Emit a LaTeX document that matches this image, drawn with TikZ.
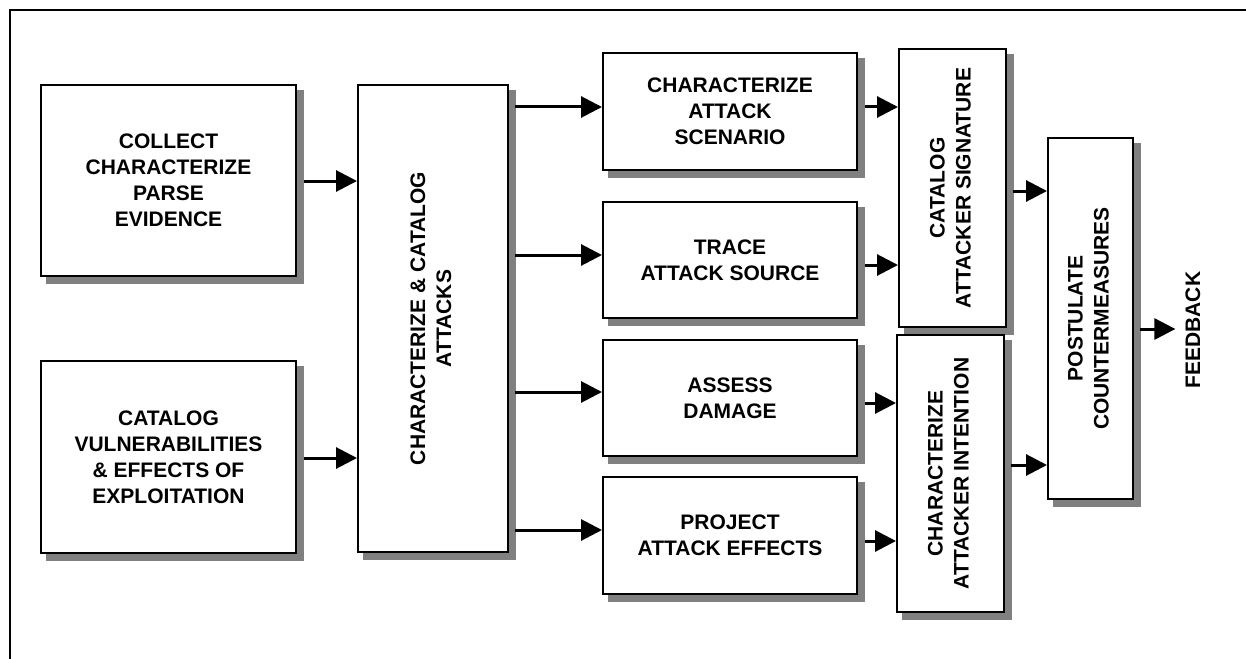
\documentclass[tikz,border=0pt]{standalone}
\usepackage{fontspec}
\setmainfont{Liberation Sans}
\usepackage{graphicx}
\usetikzlibrary{arrows.meta,backgrounds,calc}
\definecolor{shadowgray}{HTML}{808080}
\begin{document}
\begin{tikzpicture}[x=1pt,y=-1pt,
  box/.style={draw,line width=2pt,fill=white,inner sep=0pt,align=center,
    font=\bfseries\fontsize{21}{26}\selectfont},
  lbl/.style={inner sep=0pt,align=center,font=\bfseries\fontsize{21}{26}\selectfont},
  arr/.style={line width=3pt,-{Triangle[length=21pt,width=21pt]}},
  frame/.style={line width=2pt}]
\useasboundingbox (0,0) rectangle (1246,658);
\clip (0,0) rectangle (1246,658);
\draw[frame] (1300,10) rectangle (10,700);

\node[box,minimum width=255pt,minimum height=191pt] (b1) at (168.5,180.5)
  {COLLECT\\CHARACTERIZE\\PARSE\\EVIDENCE};
\node[box,minimum width=255pt,minimum height=192pt] (b2) at (168.5,457)
  {CATALOG\\VULNERABILITIES\\\& EFFECTS OF\\EXPLOITATION};
\node[box,minimum width=150pt,minimum height=467pt] (b3) at (433,318.5)
  {\rotatebox{90}{\begin{tabular}{@{}c@{}}CHARACTERIZE \& CATALOG\\ATTACKS\end{tabular}}};

\node[box,minimum width=254pt,minimum height=117pt] (c1) at (730,111.5)
  {CHARACTERIZE\\ATTACK\\SCENARIO};
\node[box,minimum width=254pt,minimum height=116pt] (c2) at (730,260)
  {TRACE\\ATTACK SOURCE};
\node[box,minimum width=254pt,minimum height=116pt] (c3) at (730,398)
  {ASSESS\\DAMAGE};
\node[box,minimum width=254pt,minimum height=117pt] (c4) at (730,535.5)
  {PROJECT\\ATTACK EFFECTS};

\node[box,minimum width=107pt,minimum height=278pt] (d1) at (952.5,188)
  {\rotatebox{90}{\begin{tabular}{@{}c@{}}CATALOG\\ATTACKER SIGNATURE\end{tabular}}};
\node[box,minimum width=107pt,minimum height=277pt] (d2) at (950.5,473.5)
  {\rotatebox{90}{\begin{tabular}{@{}c@{}}CHARACTERIZE\\ATTACKER INTENTION\end{tabular}}};

\node[box,minimum width=85pt,minimum height=361pt] (e) at (1090.5,318.5)
  {\rotatebox{90}{\begin{tabular}{@{}c@{}}POSTULATE\\COUNTERMEASURES\end{tabular}}};

\node[lbl,rotate=90] (fb) at (1193,330) {FEEDBACK};

\begin{scope}[on background layer]
  \foreach \n in {b1,b2,b3,c1,c2,c3,c4,d1,d2,e}
    \fill[shadowgray] ($(\n.south west)+(6,7)$) rectangle ($(\n.north east)+(7,6)$);
\end{scope}

\draw[arr] (b1.east |- 0,181) ++(7,0) -- (b3.west |- 0,181);
\draw[arr] (b2.east |- 0,458) ++(7,0) -- (b3.west |- 0,458);

\draw[arr] (b3.east |- 0,107) ++(6,0) -- (c1.west |- 0,107);
\draw[arr] (b3.east |- 0,255) ++(6,0) -- (c2.west |- 0,255);
\draw[arr] (b3.east |- 0,392) ++(6,0) -- (c3.west |- 0,392);
\draw[arr] (b3.east |- 0,530) ++(6,0) -- (c4.west |- 0,530);

\draw[arr] (c1.east |- 0,107) ++(7,0) -- (d1.west |- 0,107);
\draw[arr] (c2.east |- 0,265) ++(7,0) -- (d1.west |- 0,265);
\draw[arr] (c3.east |- 0,403) ++(7,0) -- (d2.west |- 0,403);
\draw[arr] (c4.east |- 0,541) ++(7,0) -- (d2.west |- 0,541);

\draw[arr] (d1.east |- 0,191) ++(6,0) -- (e.west |- 0,191);
\draw[arr] (d2.east |- 0,465) ++(6,0) -- (e.west |- 0,465);

\draw[arr] (e.east |- 0,329) ++(6,0) -- ($(fb.north |- 0,329)+(-10,0)$);
\end{tikzpicture}
\end{document}
